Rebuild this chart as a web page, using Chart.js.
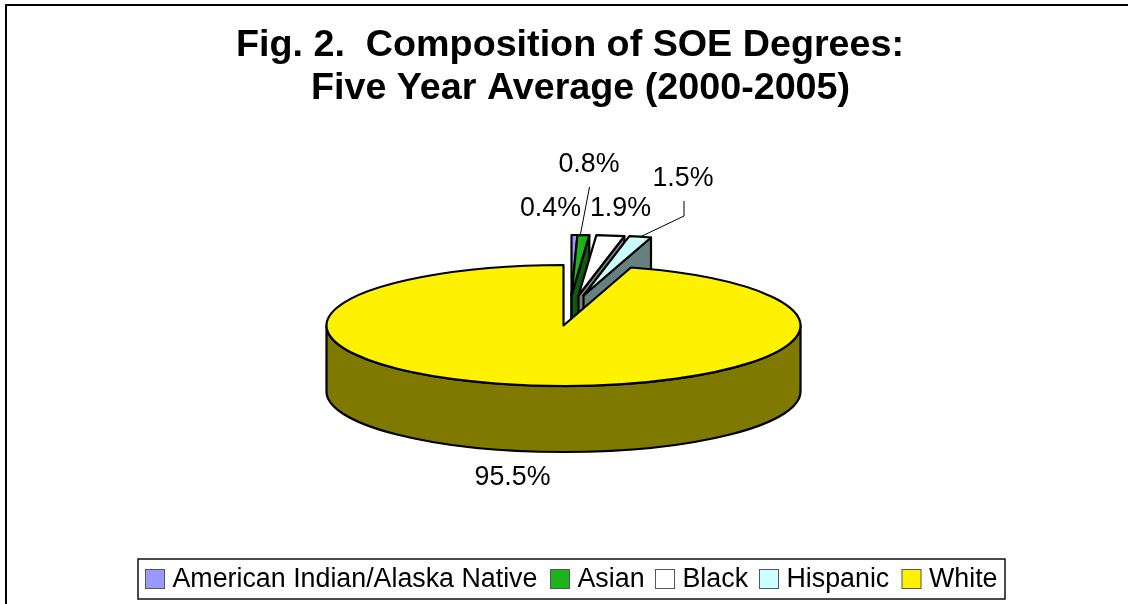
<!DOCTYPE html>
<html>
<head>
<meta charset="utf-8">
<style>html,body{margin:0;padding:0;background:#fff;overflow:hidden}canvas{display:block}</style>
<script src="https://cdn.jsdelivr.net/npm/chart.js@4/dist/chart.umd.min.js"></script>
</head>
<body>
<canvas id="c" width="1128" height="604"></canvas>
<script>
const categories = ['American Indian/Alaska Native', 'Asian', 'Black', 'Hispanic', 'White'];
const shares = [0.4, 0.8, 1.9, 1.5, 95.5];
const titleLines = ['Fig. 2.  Composition of SOE Degrees:  ', 'Five Year Average (2000-2005)'];

const topColors = ['#9999FF', '#1DB31D', '#FFFFFF', '#CCFFFF', '#FFF200'];
const sideColors = ['#4C4C80', '#0E5A0E', '#808080', '#668080', '#807900'];
const FONT = '"Liberation Sans", Arial, sans-serif';
const PIE = {cx: 563.5, cy: 325.5, rx: 237, ry: 60.5, depth: 66};
const shifts = [[8, -30], [8, -30], [15, -30], [20, -30], [0, 0]];
const labelSpots = [[550.5, 209], [589, 165], [620.5, 209], [683, 179], [512.5, 478]];
const leaders = [[[589.5, 187], [580.5, 234]], [[684, 201], [684, 216], [640, 237]]];
const legendBox = {x: 138, y: 559, w: 867, h: 40, swatch: 19, toText: 8};
const legendStarts = [145.5, 550.5, 655.5, 759.5, 902];

const pie3d = {
  id: 'pie3d',
  beforeDatasetsDraw(chart) {
    const ctx = chart.ctx, arcs = chart.getDatasetMeta(0).data;
    const k = PIE.ry / PIE.rx;
    arcs.forEach((arc, i) => {
      const [ox, oy] = shifts[i];
      const cx = PIE.cx + ox, cy = PIE.cy + oy;
      const r = arc.outerRadius, a0 = arc.startAngle, a1 = arc.endAngle;
      const pt = a => [cx + r * Math.cos(a), cy + r * k * Math.sin(a)];
      ctx.save();
      ctx.lineWidth = 2.2;
      ctx.lineJoin = 'round';
      ctx.strokeStyle = '#000';
      ctx.fillStyle = sideColors[i];
      if (i < arcs.length - 1) {
        const p = pt(a1);
        ctx.beginPath();
        ctx.moveTo(cx, cy);
        ctx.lineTo(p[0], p[1]);
        ctx.lineTo(p[0], p[1] + PIE.depth);
        ctx.lineTo(cx, cy + PIE.depth);
        ctx.closePath();
        ctx.fill();
        ctx.stroke();
      } else {
        ctx.beginPath();
        ctx.ellipse(cx, cy, r, r * k, 0, 0, Math.PI);
        ctx.ellipse(cx, cy + PIE.depth, r, r * k, 0, Math.PI, 0, true);
        ctx.closePath();
        ctx.fill();
        ctx.stroke();
      }
      ctx.restore();

      ctx.save();
      ctx.translate(cx, cy);
      ctx.scale(1, k);
      ctx.translate(-arc.x, -arc.y);
      arc.draw(ctx);
      ctx.restore();

      ctx.save();
      ctx.lineWidth = 2.2;
      ctx.lineJoin = 'round';
      ctx.strokeStyle = '#000';
      ctx.beginPath();
      ctx.moveTo(cx, cy);
      ctx.ellipse(cx, cy, r, r * k, 0, a0, a1);
      ctx.closePath();
      ctx.stroke();
      ctx.restore();
    });
    return false;
  },
  afterDraw(chart) {
    const ctx = chart.ctx;
    ctx.save();
    // outer frame, open on the right and bottom where the picture is cut
    ctx.strokeStyle = '#000';
    ctx.lineWidth = 2;
    ctx.beginPath();
    ctx.moveTo(6, 604);
    ctx.lineTo(6, 5);
    ctx.lineTo(1128, 5);
    ctx.stroke();

    // value labels and leaders
    ctx.fillStyle = '#000';
    ctx.font = '26.8px ' + FONT;
    ctx.textAlign = 'center';
    ctx.textBaseline = 'middle';
    shares.forEach((v, i) => ctx.fillText(v.toFixed(1) + '%', labelSpots[i][0], labelSpots[i][1]));
    ctx.lineWidth = 1;
    leaders.forEach(line => {
      ctx.beginPath();
      line.forEach((p, j) => j ? ctx.lineTo(p[0], p[1]) : ctx.moveTo(p[0], p[1]));
      ctx.stroke();
    });

    // legend
    const b = legendBox;
    ctx.lineWidth = 1.5;
    ctx.strokeStyle = '#111';
    ctx.fillStyle = '#fff';
    ctx.fillRect(b.x, b.y, b.w, b.h);
    ctx.strokeRect(b.x, b.y, b.w, b.h);
    ctx.textAlign = 'left';
    const mid = b.y + b.h / 2;
    categories.forEach((name, i) => {
      const x = legendStarts[i];
      ctx.fillStyle = topColors[i];
      ctx.strokeStyle = '#555';
      ctx.lineWidth = 1;
      ctx.fillRect(x, mid - b.swatch / 2, b.swatch, b.swatch);
      ctx.strokeRect(x, mid - b.swatch / 2, b.swatch, b.swatch);
      ctx.fillStyle = '#000';
      ctx.fillText(name, x + b.swatch + b.toText, mid + 0.5);
    });
    ctx.restore();
  }
};

new Chart(document.getElementById('c'), {
  type: 'pie',
  data: {
    labels: categories,
    datasets: [{
      data: shares,
      backgroundColor: topColors,
      borderWidth: 0,
      radius: PIE.rx
    }]
  },
  options: {
    responsive: false,
    animation: false,
    rotation: 0,
    layout: {padding: {left: 33, right: 0, top: 0, bottom: 0}},
    plugins: {
      legend: {display: false},
      tooltip: {enabled: false},
      title: {
        display: true,
        text: titleLines,
        color: '#000',
        font: {family: FONT, size: 37.7, weight: 'bold', lineHeight: 43 / 37.7},
        padding: {top: 24, bottom: 0}
      }
    }
  },
  plugins: [pie3d]
});
</script>
</body>
</html>
